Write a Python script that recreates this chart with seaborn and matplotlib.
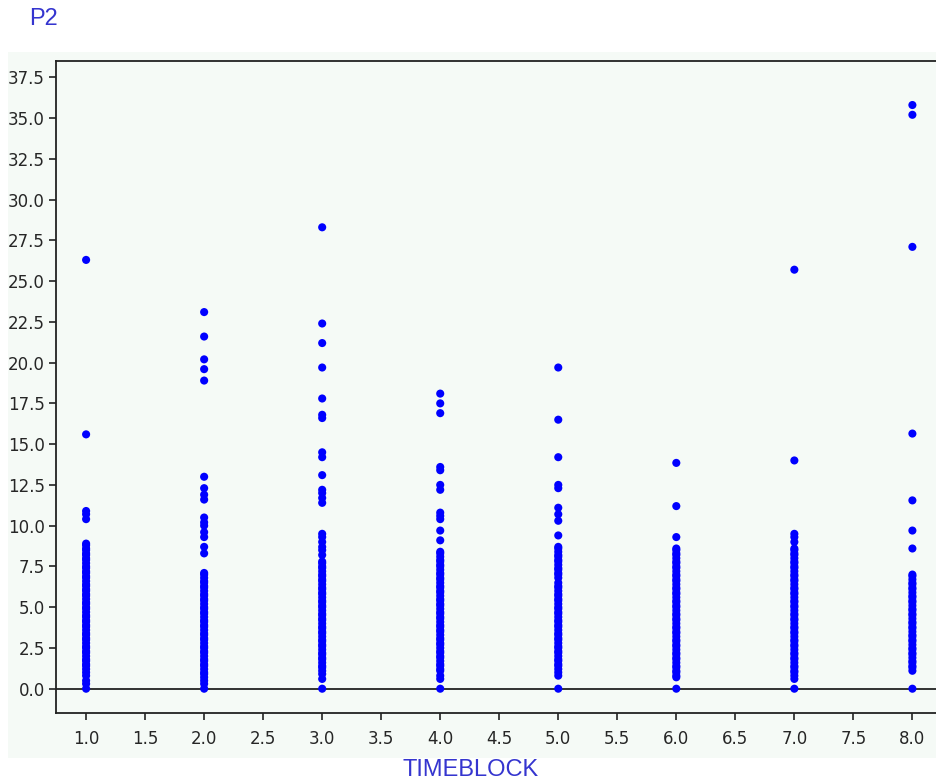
import numpy as np
import pandas as pd
import matplotlib
matplotlib.use("Agg")
import matplotlib.pyplot as plt
from matplotlib import font_manager
from matplotlib.patches import Rectangle
import seaborn as sns

# ---- data ----
tb1 = [26.3, 15.6, 10.9, 10.7, 10.4,
       8.9, 8.8, 8.6, 8.5, 8.3, 8.2, 8.0, 7.9, 7.7, 7.5, 7.4, 7.2, 7.1, 6.9, 6.8, 6.6,
       6.4, 6.3, 6.1, 6.0, 5.8, 5.7, 5.5, 5.3, 5.2, 5.0, 4.9, 4.7, 4.5, 4.4, 4.2, 4.1,
       3.9, 3.8, 3.6, 3.4, 3.3, 3.1, 3.0, 2.8, 2.6, 2.5, 2.3, 2.2, 2.0, 1.8, 1.7, 1.5,
       1.4, 1.2, 1.0, 0.8, 0.5, 0.3, 0.0]
tb2 = [23.1, 21.6, 20.2, 19.6, 18.9, 13.0, 12.3, 11.9, 11.6, 10.5, 10.2, 10.0, 9.6,
       9.3, 8.7, 8.3,
       7.1, 7.0, 6.8, 6.6, 6.5, 6.3, 6.2, 6.0, 5.8, 5.7, 5.5, 5.4, 5.2, 5.0, 4.9, 4.7,
       4.6, 4.4, 4.2, 4.1, 3.9, 3.8, 3.6, 3.4, 3.3, 3.1, 3.0, 2.8, 2.6, 2.5, 2.3, 2.2,
       2.0, 1.8, 1.7, 1.5, 1.4, 1.2, 1.0, 0.9, 0.7, 0.5, 0.3, 0.0]
tb3 = [28.3, 22.4, 21.2, 19.7, 17.8, 16.8, 16.6, 14.5, 14.2, 13.1, 12.2, 12.0, 11.7,
       11.4, 9.5, 9.3, 9.0, 8.7, 8.5, 8.2,
       7.8, 7.7, 7.5, 7.4, 7.2, 7.0, 6.9, 6.7, 6.6, 6.4, 6.2, 6.1, 5.9, 5.8, 5.6, 5.4,
       5.3, 5.1, 5.0, 4.8, 4.6, 4.5, 4.3, 4.2, 4.0, 3.8, 3.7, 3.5, 3.4, 3.2, 3.0, 2.9,
       2.7, 2.6, 2.4, 2.2, 2.1, 1.9, 1.8, 1.6, 1.4, 1.3, 1.1, 0.9, 0.6, 0.0]
tb4 = [18.1, 17.5, 16.9, 13.6, 13.4, 12.5, 12.2, 10.8, 10.6, 10.4, 9.7, 9.1,
       8.4, 8.3, 8.1, 7.9, 7.8, 7.6, 7.5, 7.3, 7.1, 7.0, 6.8, 6.7, 6.5, 6.3, 6.2, 6.0,
       5.9, 5.7, 5.5, 5.4, 5.2, 5.1, 4.9, 4.7, 4.6, 4.4, 4.3, 4.1, 3.9, 3.8, 3.6, 3.5,
       3.3, 3.1, 3.0, 2.8, 2.7, 2.5, 2.3, 2.2, 2.0, 1.9, 1.7, 1.5, 1.4, 1.2, 1.1, 0.8,
       0.6, 0.0]
tb5 = [19.7, 16.5, 14.2, 12.5, 12.3, 11.1, 10.7, 10.3, 9.4,
       8.7, 8.6, 8.4, 8.2, 8.1, 7.9, 7.8, 7.6, 7.4, 7.3, 7.1, 7.0, 6.8, 6.5, 6.3, 6.2,
       6.0, 5.8, 5.7, 5.5, 5.4, 5.2, 5.0, 4.9, 4.7, 4.6, 4.4, 4.2, 4.1, 3.9, 3.8, 3.6,
       3.4, 3.3, 3.1, 3.0, 2.8, 2.6, 2.5, 2.3, 2.2, 2.0, 1.8, 1.7, 1.5, 1.4, 1.2, 1.0,
       0.8, 0.0]
tb6 = [13.85, 11.2, 9.3,
       8.6, 8.5, 8.3, 8.2, 8.0, 7.8, 7.7, 7.5, 7.4, 7.2, 7.0, 6.9, 6.7, 6.6, 6.4, 6.2,
       6.1, 5.9, 5.8, 5.6, 5.4, 5.3, 5.1, 5.0, 4.8, 4.6, 4.5, 4.3, 4.2, 4.0, 3.8, 3.7,
       3.5, 3.4, 3.2, 3.0, 2.9, 2.7, 2.6, 2.4, 2.2, 2.1, 1.9, 1.8, 1.6, 1.4, 1.3, 1.1,
       1.0, 0.8, 0.7, 0.0]
tb7 = [25.7, 14.0, 9.5, 9.3, 9.0,
       8.6, 8.5, 8.3, 8.2, 8.0, 7.8, 7.7, 7.5, 7.4, 7.2, 7.0, 6.9, 6.7, 6.6, 6.4, 6.2,
       6.1, 5.9, 5.8, 5.6, 5.4, 5.3, 5.1, 5.0, 4.8, 4.6, 4.5, 4.3, 4.2, 4.0, 3.8, 3.7,
       3.5, 3.4, 3.2, 3.0, 2.9, 2.7, 2.6, 2.4, 2.2, 2.1, 1.9, 1.8, 1.6, 1.4, 1.3, 1.1,
       1.0, 0.8, 0.6, 0.0]
tb8 = [35.8, 35.2, 27.1, 15.65, 11.55, 9.7, 8.6,
       7.0, 6.9, 6.7, 6.5, 6.4, 6.2, 6.1, 5.9, 5.7, 5.6, 5.4, 5.3, 5.1, 4.9, 4.8, 4.6,
       4.5, 4.3, 4.1, 4.0, 3.8, 3.7, 3.5, 3.3, 3.2, 3.0, 2.9, 2.7, 2.5, 2.4, 2.2, 2.1,
       1.9, 1.7, 1.6, 1.4, 1.3, 1.1, 0.0]

timeblocks = [1.0, 2.0, 3.0, 4.0, 5.0, 6.0, 7.0, 8.0]
columns = [tb1, tb2, tb3, tb4, tb5, tb6, tb7, tb8]
yticks = [0.0, 2.5, 5.0, 7.5, 10.0, 12.5, 15.0, 17.5, 20.0, 22.5, 25.0, 27.5,
          30.0, 32.5, 35.0, 37.5]
xticks = [1.0, 1.5, 2.0, 2.5, 3.0, 3.5, 4.0, 4.5, 5.0, 5.5, 6.0, 6.5, 7.0, 7.5, 8.0]

df = pd.DataFrame({
    "TIMEBLOCK": np.concatenate([[t] * len(c) for t, c in zip(timeblocks, columns)]),
    "P2": np.concatenate(columns),
})

# ---- style ----
sns.set_style("white")
available = {f.name for f in font_manager.fontManager.ttflist}
tick_font = "DejaVu Sans"
for cand in ["Liberation Sans Narrow", "DejaVu Sans Condensed"]:
    if cand in available:
        tick_font = cand
        break
label_font = "Liberation Sans" if "Liberation Sans" in available else "DejaVu Sans"
plt.rcParams["font.family"] = [tick_font, "DejaVu Sans"]

W, H = 936, 784
fig = plt.figure(figsize=(W / 100, H / 100), dpi=100)
fig.patch.set_facecolor("white")
panel_col = "#f5faf6"
fig.patches.append(Rectangle((8 / W, 1 - 758 / H), 1 - 8 / W, (758 - 52) / H,
                             transform=fig.transFigure, facecolor=panel_col,
                             edgecolor="none", zorder=-5))

ax = fig.add_axes([56 / W, 1 - 713 / H, 1 - 56 / W, (713 - 61) / H])
ax.set_zorder(2)
ax.set_facecolor(panel_col)

sns.scatterplot(data=df, x="TIMEBLOCK", y="P2", ax=ax, color="#0000ff",
                s=34, linewidth=0, edgecolor="none", zorder=3)
ax.axhline(0, color="#222222", lw=1.3, zorder=2)

ax.set_xlim(0.745, 8.2)
ax.set_ylim(-1.49, 38.5)
ax.set_xticks(xticks)
ax.set_yticks(yticks)
ax.set_xticklabels([f"{v:.1f}" for v in xticks])
ax.set_yticklabels([f"{v:.1f}" for v in yticks])
ax.tick_params(axis="both", direction="out", length=5, width=1.2, color="#222222",
               labelcolor="#262626", labelsize=12, left=True, bottom=True)
ax.tick_params(axis="y", pad=3)
ax.tick_params(axis="x", pad=7)
for side in ["left", "bottom", "top"]:
    ax.spines[side].set_visible(True)
    ax.spines[side].set_color("#222222")
    ax.spines[side].set_linewidth(1.3)
ax.spines["right"].set_visible(False)
ax.set_xlabel("")
ax.set_ylabel("")

fig.text(29 / W, 1 - 19 / H, "P2", ha="left", va="center", color="#3535cf",
         fontsize=17, family=[label_font, "DejaVu Sans"])
fig.text(471 / W, 1 - 770 / H, "TIMEBLOCK", ha="center", va="center", color="#3535cf",
         fontsize=17, family=[label_font, "DejaVu Sans"])

fig.savefig("out.png", dpi=100)
